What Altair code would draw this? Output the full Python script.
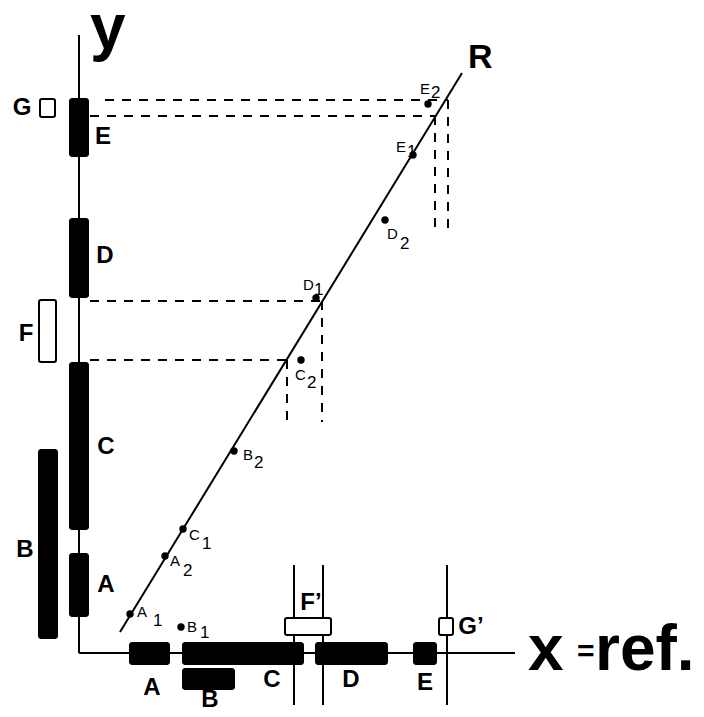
import altair as alt
import pandas as pd

# Coordinate system: origin where the y axis meets the x (=reference) axis.
X_DOMAIN = [-71, 617]
Y_DOMAIN = [-55, 645]

# ---- solid lines: axes, regression line R, reference verticals ----
solid_x1 = [0, 0, 41, 215, 244, 368]
solid_y1 = [0, 0, 21, -52, -52, -52]
solid_x2 = [0, 436, 383, 215, 244, 368]
solid_y2 = [618, 0, 580, 88, 88, 88]

# ---- dashed projection lines ----
dash_x1 = [26, 11, 356, 369, 11, 243, 11, 208]
dash_y1 = [553, 537, 537, 553, 352, 352, 293, 293]
dash_x2 = [369, 356, 356, 369, 243, 243, 208, 208]
dash_y2 = [553, 537, 423, 423, 352, 231, 293, 231]

# ---- filled segments (y side, then x side) ----
bar_names = ["E", "D", "C", "A", "B", "A", "C", "D", "E", "B"]
bar_x1 = [-10, -10, -10, -10, -41, 50, 103, 236, 334, 103]
bar_x2 = [10, 10, 10, 10, -21, 91, 225, 309, 358, 156]
bar_y1 = [496, 355, 123, 36, 14, -12, -12, -12, -12, -37]
bar_y2 = [555, 435, 291, 100, 204, 11, 11, 11, 11, -15]

# ---- open segments ----
box_names = ["F", "G", "F'", "G'"]
box_x1 = [-40, -39, 206, 360]
box_x2 = [-23, -24, 252, 374]
box_y1 = [291, 536, 18, 18]
box_y2 = [353, 554, 35, 35]

# ---- points ----
pt_letter = ["A", "A", "C", "B", "C", "D", "D", "E", "E", "B"]
pt_sub = ["1", "2", "1", "2", "2", "1", "2", "1", "2", "1"]
pt_x = [51, 86, 104, 155, 222, 237, 306, 334, 349, 102]
pt_y = [39, 97, 124, 202, 293, 355, 433, 498, 549, 26]
lab_x = [58, 91, 110, 164, 216, 224, 308, 317, 341, 108]
lab_y = [41, 92, 118, 198, 278, 368, 419, 506, 564, 26]
sub_x = [74, 104, 123, 175, 228, 235, 321, 328, 352, 121]
sub_y = [32, 82, 109, 190, 270, 363, 409, 501, 560, 20]

# ---- bold segment labels ----
seg_text = ["G", "E", "D", "F", "C", "B", "A", "A", "B", "C", "D", "E", "F\u2019", "G\u2019"]
seg_x = [-57, 24, 26, -53, 27, -54, 27, 73, 131, 193, 272, 346, 232, 392]
seg_y = [545, 516, 397, 319, 206, 103, 68, -35, -47, -27, -27, -30, 50, 26]

# ---- big titles ----
title_text = ["y", "R", "x", "=", "ref."]
title_x = [11, 389, 449, 498, 516]
title_y = [604, 585, -17, -8, -17]
title_size = [64, 34, 64, 30, 64]

FONT = "Liberation Sans"


def xs(field):
    return alt.X(field, type="quantitative",
                 scale=alt.Scale(domain=X_DOMAIN, nice=False, zero=False), axis=None)


def ys(field):
    return alt.Y(field, type="quantitative",
                 scale=alt.Scale(domain=Y_DOMAIN, nice=False, zero=False), axis=None)


solid = pd.DataFrame(dict(x=solid_x1, y=solid_y1, x2=solid_x2, y2=solid_y2))
dashed = pd.DataFrame(dict(x=dash_x1, y=dash_y1, x2=dash_x2, y2=dash_y2))
bars = pd.DataFrame(dict(name=bar_names, x=bar_x1, x2=bar_x2, y=bar_y1, y2=bar_y2))
boxes = pd.DataFrame(dict(name=box_names, x=box_x1, x2=box_x2, y=box_y1, y2=box_y2))
pts = pd.DataFrame(dict(letter=pt_letter, sub=pt_sub, x=pt_x, y=pt_y,
                        lx=lab_x, ly=lab_y, sx=sub_x, sy=sub_y))
segs = pd.DataFrame(dict(t=seg_text, x=seg_x, y=seg_y))
titles = pd.DataFrame(dict(t=title_text, x=title_x, y=title_y, s=title_size))

solid_layer = alt.Chart(solid).mark_rule(color="black", strokeWidth=2).encode(
    x=xs("x"), y=ys("y"), x2="x2", y2="y2")

dash_layer = alt.Chart(dashed).mark_rule(color="black", strokeWidth=2, strokeDash=[9, 8]).encode(
    x=xs("x"), y=ys("y"), x2="x2", y2="y2")

bar_layer = alt.Chart(bars).mark_rect(color="black", cornerRadius=3).encode(
    x=xs("x"), x2="x2", y=ys("y"), y2="y2")

box_layer = alt.Chart(boxes).mark_rect(fill="white", stroke="black", strokeWidth=2,
                                       cornerRadius=2).encode(
    x=xs("x"), x2="x2", y=ys("y"), y2="y2")

pt_layer = alt.Chart(pts).mark_circle(color="black", opacity=1, size=55).encode(
    x=xs("x"), y=ys("y"))

pt_lab = alt.Chart(pts).mark_text(font=FONT, fontSize=15, align="left",
                                  baseline="middle", color="black").encode(
    x=xs("lx"), y=ys("ly"), text="letter")

pt_sub_lab = alt.Chart(pts).mark_text(font=FONT, fontSize=17, align="left",
                                      baseline="middle", color="black").encode(
    x=xs("sx"), y=ys("sy"), text="sub")

seg_lab = alt.Chart(segs).mark_text(font=FONT, fontSize=24, fontWeight="bold",
                                    align="center", baseline="middle", color="black").encode(
    x=xs("x"), y=ys("y"), text="t")

title_lab = alt.Chart(titles).mark_text(font=FONT, fontWeight="bold", align="left",
                                        baseline="alphabetic", color="black").encode(
    x=xs("x"), y=ys("y"), text="t",
    size=alt.Size("s", type="quantitative", scale=None, legend=None))

chart = alt.layer(
    dash_layer, solid_layer, bar_layer, box_layer, pt_layer,
    pt_lab, pt_sub_lab, seg_lab, title_lab
).properties(width=688, height=700, padding=0, background="white",
             autosize=alt.AutoSizeParams(type="none")
).configure_view(stroke=None)

chart.save("out.html", embed_options={"renderer": "svg", "actions": False})
